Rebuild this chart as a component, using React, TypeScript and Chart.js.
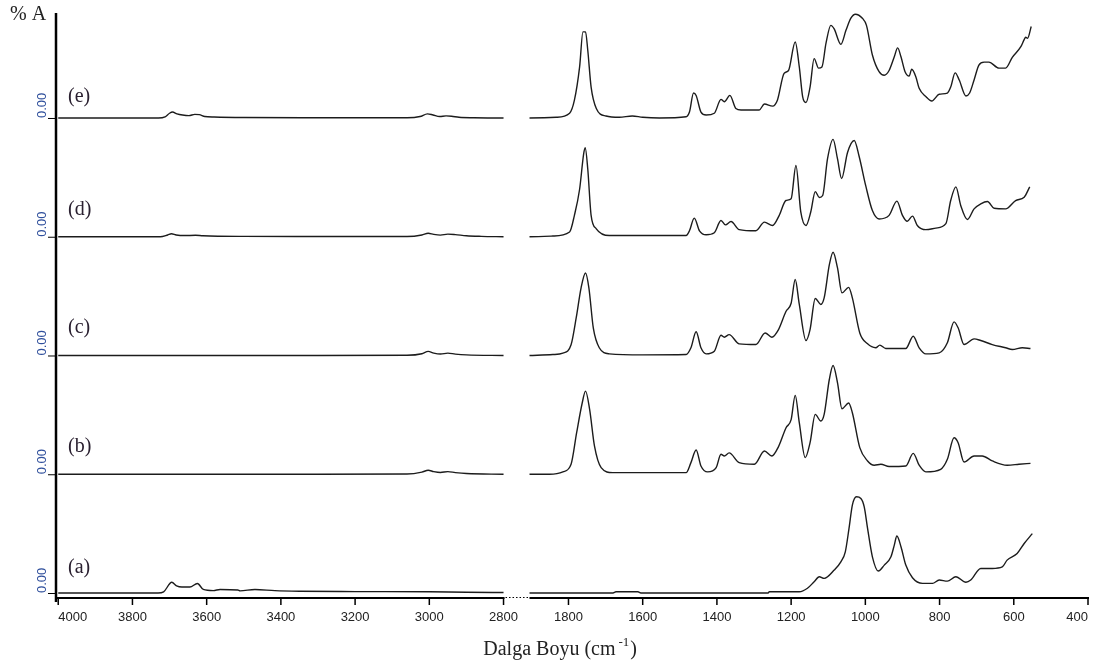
import React, { useEffect, useRef } from "react";
import { Chart, registerables } from "chart.js";

Chart.register(...registerables);

// ---- axis / labels ----
const xTickLabels = [4000, 3800, 3600, 3400, 3200, 3000, 2800, 1800, 1600, 1400, 1200, 1000, 800, 600, 400];
const seriesNames = ["(a)", "(b)", "(c)", "(d)", "(e)"];
const seriesOffsets = [0, 1, 2, 3, 4];
const labelLift = [0.21, 0.23, 0.236, 0.23, 0.177];
const yTickText = "0.00";
const yAxisTitle = "% A";
const xAxisTitle = "Dalga Boyu (cm";
const xAxisTitleSup = "-1";

// break of the wavenumber axis
const BREAK_HI = 2800;
const BREAK_LO = 1800;
const GAP = 175;

// ---- spectra: [wavenumber cm-1, absorbance] ----
const specA_high = [[4000, 0], [3731, 0], [3716, 0.01], [3694, 0.09], [3681, 0.06], [3667, 0.05], [3645, 0.05], [3625, 0.08], [3609, 0.03], [3582, 0.02], [3564, 0.03], [3516, 0.025], [3510, 0.018], [3470, 0.03], [3416, 0.02], [3349, 0.015], [3200, 0.012], [3000, 0.01], [2900, 0.006], [2800, 0.004]];
const specA_low = [[1905, 0], [1680, 0], [1672, 0.01], [1613, 0.01], [1605, 0], [1262, 0], [1259, 0.01], [1178, 0.01], [1156, 0.04], [1138, 0.095], [1124, 0.137], [1111, 0.123], [1084, 0.193], [1066, 0.263], [1054, 0.347], [1044, 0.544], [1035, 0.74], [1024, 0.81], [1012, 0.796], [1003, 0.725], [994, 0.544], [981, 0.305], [965, 0.185], [949, 0.235], [931, 0.305], [922, 0.403], [915, 0.48], [904, 0.39], [891, 0.235], [873, 0.129], [846, 0.081], [819, 0.081], [801, 0.109], [779, 0.1], [756, 0.137], [729, 0.09], [716, 0.109], [689, 0.207], [658, 0.207], [631, 0.22], [618, 0.277], [591, 0.333], [572, 0.417], [550, 0.5]];

const specB_high = [[4000, 0], [3300, 0], [3060, 0.002], [3020, 0.018], [3003, 0.034], [2988, 0.022], [2970, 0.015], [2950, 0.022], [2930, 0.014], [2900, 0.006], [2800, 0]];
const specB_low = [[1905, 0], [1851, 0], [1815, 0.02], [1793, 0.084], [1778, 0.35], [1763, 0.6], [1754, 0.7], [1743, 0.546], [1730, 0.238], [1712, 0.056], [1681, 0.014], [1483, 0.014], [1470, 0.098], [1456, 0.204], [1443, 0.07], [1425, 0.02], [1402, 0.056], [1389, 0.168], [1380, 0.154], [1367, 0.18], [1340, 0.098], [1299, 0.084], [1272, 0.196], [1252, 0.154], [1234, 0.233], [1214, 0.39], [1200, 0.46], [1189, 0.664], [1178, 0.434], [1162, 0.14], [1149, 0.266], [1135, 0.504], [1120, 0.448], [1111, 0.504], [1097, 0.8], [1087, 0.916], [1075, 0.77], [1063, 0.552], [1045, 0.6], [1035, 0.518], [1015, 0.224], [994, 0.112], [976, 0.076], [958, 0.084], [936, 0.065], [891, 0.07], [871, 0.176], [855, 0.076], [837, 0.02], [797, 0.042], [779, 0.126], [761, 0.308], [750, 0.266], [734, 0.103], [707, 0.154], [685, 0.154], [658, 0.112], [618, 0.076], [586, 0.084], [555, 0.092]];

const specC_high = [[4000, 0], [3300, 0], [3060, 0.002], [3020, 0.015], [3003, 0.035], [2988, 0.02], [2970, 0.012], [2950, 0.02], [2930, 0.012], [2900, 0.005], [2800, 0]];
const specC_low = [[1905, 0], [1842, 0.008], [1815, 0.02], [1793, 0.09], [1779, 0.32], [1766, 0.57], [1754, 0.695], [1745, 0.57], [1733, 0.23], [1717, 0.065], [1690, 0.014], [1600, 0.005], [1483, 0.008], [1470, 0.065], [1456, 0.2], [1443, 0.065], [1429, 0.014], [1407, 0.036], [1389, 0.17], [1380, 0.154], [1367, 0.176], [1340, 0.098], [1295, 0.092], [1270, 0.19], [1252, 0.154], [1234, 0.218], [1214, 0.37], [1200, 0.44], [1189, 0.64], [1178, 0.43], [1160, 0.126], [1149, 0.218], [1135, 0.48], [1120, 0.43], [1111, 0.485], [1097, 0.765], [1087, 0.87], [1075, 0.737], [1063, 0.527], [1045, 0.574], [1035, 0.485], [1015, 0.19], [994, 0.098], [972, 0.065], [961, 0.087], [945, 0.059], [891, 0.059], [871, 0.162], [855, 0.065], [837, 0.014], [801, 0.022], [779, 0.107], [761, 0.283], [750, 0.233], [734, 0.092], [707, 0.14], [689, 0.126], [658, 0.092], [622, 0.065], [604, 0.05], [577, 0.065], [555, 0.059]];

const specD_high = [[4000, 0], [3725, 0], [3705, 0.015], [3695, 0.025], [3682, 0.015], [3660, 0.01], [3630, 0.012], [3610, 0.008], [3500, 0.003], [3300, 0.002], [3060, 0.002], [3020, 0.015], [3003, 0.03], [2988, 0.02], [2970, 0.014], [2950, 0.022], [2930, 0.018], [2900, 0.008], [2860, 0.003], [2800, 0]];
const specD_low = [[1905, 0], [1842, 0.006], [1797, 0.04], [1784, 0.18], [1770, 0.4], [1759, 0.7], [1755, 0.75], [1748, 0.57], [1739, 0.18], [1725, 0.067], [1690, 0.01], [1483, 0.01], [1474, 0.05], [1461, 0.157], [1447, 0.05], [1429, 0.017], [1407, 0.034], [1389, 0.137], [1377, 0.1], [1362, 0.128], [1340, 0.06], [1295, 0.05], [1272, 0.123], [1250, 0.095], [1232, 0.18], [1214, 0.305], [1200, 0.32], [1187, 0.6], [1174, 0.21], [1160, 0.095], [1147, 0.21], [1135, 0.38], [1124, 0.33], [1115, 0.347], [1102, 0.655], [1087, 0.82], [1075, 0.655], [1064, 0.49], [1048, 0.71], [1030, 0.81], [1017, 0.68], [999, 0.43], [981, 0.22], [963, 0.15], [936, 0.18], [915, 0.3], [900, 0.18], [887, 0.13], [873, 0.174], [860, 0.095], [837, 0.06], [810, 0.073], [783, 0.11], [770, 0.305], [756, 0.42], [743, 0.263], [725, 0.145], [707, 0.235], [689, 0.277], [671, 0.297], [653, 0.24], [622, 0.235], [595, 0.305], [572, 0.333], [557, 0.42]];

const specE_high = [[4000, 0], [3730, 0], [3712, 0.01], [3700, 0.04], [3692, 0.05], [3680, 0.035], [3665, 0.025], [3648, 0.02], [3632, 0.03], [3620, 0.028], [3605, 0.012], [3580, 0.008], [3500, 0.004], [3300, 0.002], [3060, 0.002], [3025, 0.012], [3005, 0.035], [2990, 0.025], [2972, 0.012], [2955, 0.018], [2940, 0.015], [2920, 0.006], [2880, 0.002], [2800, 0]];
const specE_low = [[1905, 0], [1833, 0.006], [1797, 0.04], [1784, 0.15], [1770, 0.43], [1761, 0.725], [1754, 0.725], [1748, 0.57], [1739, 0.26], [1725, 0.08], [1699, 0.017], [1663, 0.006], [1628, 0.017], [1600, 0.006], [1555, 0], [1483, 0.01], [1474, 0.05], [1463, 0.21], [1456, 0.19], [1443, 0.05], [1429, 0.025], [1407, 0.04], [1389, 0.157], [1380, 0.137], [1365, 0.19], [1349, 0.08], [1335, 0.067], [1286, 0.067], [1272, 0.118], [1250, 0.1], [1237, 0.15], [1219, 0.376], [1207, 0.4], [1189, 0.64], [1178, 0.43], [1169, 0.18], [1160, 0.13], [1149, 0.26], [1138, 0.5], [1126, 0.42], [1117, 0.43], [1106, 0.63], [1093, 0.78], [1084, 0.75], [1066, 0.62], [1052, 0.74], [1039, 0.84], [1027, 0.874], [1008, 0.84], [997, 0.78], [981, 0.53], [963, 0.39], [949, 0.36], [936, 0.4], [922, 0.515], [913, 0.59], [904, 0.515], [893, 0.39], [882, 0.353], [875, 0.41], [864, 0.347], [855, 0.25], [837, 0.18], [821, 0.143], [801, 0.2], [779, 0.21], [770, 0.26], [758, 0.38], [747, 0.32], [729, 0.185], [719, 0.21], [707, 0.32], [694, 0.445], [680, 0.47], [667, 0.47], [640, 0.42], [622, 0.42], [604, 0.51], [581, 0.6], [572, 0.66], [568, 0.68], [563, 0.67], [553, 0.77]];

const spectraHigh = [specA_high, specB_high, specC_high, specD_high, specE_high];
const spectraLow = [specA_low, specB_low, specC_low, specD_low, specE_low];

function toT(w: number): number {
  return w >= BREAK_HI ? 4000 - w : (4000 - BREAK_HI) + GAP + (BREAK_LO - w);
}

const LINE_COLOR = "#1c1c1c";

const axisPlugin = {
  id: "ftirAxes",
  afterDraw(chart: any) {
    const ctx = chart.ctx as CanvasRenderingContext2D;
    const xs = chart.scales.x;
    const ys = chart.scales.y;
    const area = chart.chartArea;
    const W = chart.width;
    ctx.save();
    ctx.strokeStyle = "#000";
    ctx.fillStyle = "#000";

    // x axis line with break
    const xBreakA = xs.getPixelForValue(toT(BREAK_HI));
    const xBreakB = xs.getPixelForValue(toT(1905));
    ctx.lineWidth = 2;
    ctx.beginPath();
    ctx.moveTo(area.left - 1, area.bottom);
    ctx.lineTo(xBreakA + 1, area.bottom);
    ctx.moveTo(xBreakB, area.bottom);
    ctx.lineTo(area.right + 1, area.bottom);
    ctx.stroke();
    ctx.lineWidth = 1.2;
    ctx.setLineDash([1.5, 2]);
    ctx.beginPath();
    ctx.moveTo(xBreakA + 2, area.bottom - 0.5);
    ctx.lineTo(xBreakB - 1, area.bottom - 0.5);
    ctx.stroke();
    ctx.setLineDash([]);

    // x ticks + labels
    ctx.lineWidth = 1.5;
    ctx.font = "13px 'Liberation Sans', Arial, sans-serif";
    ctx.fillStyle = "#222";
    ctx.textBaseline = "middle";
    xTickLabels.forEach((w, i) => {
      const px = xs.getPixelForValue(toT(w));
      ctx.beginPath();
      ctx.moveTo(px, area.bottom);
      ctx.lineTo(px, area.bottom + 7);
      ctx.stroke();
      const txt = String(w);
      const tw = ctx.measureText(txt).width;
      if (i === 0) ctx.textAlign = "left";
      else if (px + tw / 2 > W - 2) ctx.textAlign = "right";
      else ctx.textAlign = "center";
      ctx.fillText(txt, px, area.bottom + 19);
    });

    // y axis line
    ctx.strokeStyle = "#000";
    ctx.lineWidth = 2.5;
    ctx.beginPath();
    ctx.moveTo(area.left, area.top);
    ctx.lineTo(area.left, area.bottom + 4);
    ctx.stroke();

    // y ticks (rotated "0.00") and series labels
    seriesOffsets.forEach((off, i) => {
      const py = ys.getPixelForValue(off);
      ctx.lineWidth = 1;
      ctx.beginPath();
      ctx.moveTo(area.left - 8, py + 0.5);
      ctx.lineTo(area.left, py + 0.5);
      ctx.stroke();
      ctx.save();
      ctx.translate(area.left - 14, py);
      ctx.rotate(-Math.PI / 2);
      ctx.font = "13px 'Liberation Sans', Arial, sans-serif";
      ctx.fillStyle = "#2f4f9c";
      ctx.textAlign = "left";
      ctx.textBaseline = "middle";
      ctx.fillText(yTickText, 0, 0);
      ctx.restore();

      ctx.font = "20px 'Liberation Serif', 'Times New Roman', serif";
      ctx.fillStyle = "#2a2030";
      ctx.textAlign = "left";
      ctx.textBaseline = "middle";
      ctx.fillText(seriesNames[i], area.left + 12, ys.getPixelForValue(off + labelLift[i]));
    });

    // y title
    ctx.font = "20px 'Liberation Serif', 'Times New Roman', serif";
    ctx.fillStyle = "#222";
    ctx.textAlign = "left";
    ctx.textBaseline = "alphabetic";
    ctx.fillText(yAxisTitle, 10, 20);

    // x title with superscript
    const mainFont = "20px 'Liberation Serif', 'Times New Roman', serif";
    const supFont = "13px 'Liberation Serif', 'Times New Roman', serif";
    ctx.font = mainFont;
    const w1 = ctx.measureText(xAxisTitle).width;
    const w3 = ctx.measureText(")").width;
    ctx.font = supFont;
    const w2 = ctx.measureText(xAxisTitleSup).width;
    const total = w1 + 3 + w2 + 1 + w3;
    const cx = area.left + (area.right - area.left) * 0.4885;
    let x0 = cx - total / 2;
    const base = 655;
    ctx.font = mainFont;
    ctx.fillText(xAxisTitle, x0, base);
    x0 += w1 + 3;
    ctx.font = supFont;
    ctx.fillText(xAxisTitleSup, x0, base - 9);
    x0 += w2 + 1;
    ctx.font = mainFont;
    ctx.fillText(")", x0, base);

    ctx.restore();
  },
};

export default function App() {
  const canvasRef = useRef<HTMLCanvasElement | null>(null);

  useEffect(() => {
    if (!canvasRef.current) return;
    const datasets = seriesOffsets.map((off, i) => ({
      label: seriesNames[i],
      data: [
        ...spectraHigh[i].map(([w, a]) => ({ x: toT(w), y: a + off })),
        { x: (toT(BREAK_HI) + toT(1905)) / 2, y: null as any },
        ...spectraLow[i].map(([w, a]) => ({ x: toT(w), y: a + off })),
      ],
      borderColor: LINE_COLOR,
      borderWidth: 1.4,
      pointRadius: 0,
      fill: false,
      spanGaps: false,
      cubicInterpolationMode: "monotone" as const,
    }));

    const chart = new Chart(canvasRef.current, {
      type: "line",
      data: { datasets },
      options: {
        animation: false,
        responsive: true,
        maintainAspectRatio: false,
        layout: { padding: { left: 56, top: 13, right: 6, bottom: 70 } },
        plugins: { legend: { display: false }, tooltip: { enabled: false } },
        scales: {
          x: { type: "linear", display: false, min: -6, max: toT(400) },
          y: { type: "linear", display: false, min: -0.042, max: 4.884 },
        },
      },
      plugins: [axisPlugin],
    });
    return () => chart.destroy();
  }, []);

  return (
    <div style={{ position: "absolute", left: 0, top: 0, width: 1094, height: 668, background: "#fff" }}>
      <canvas ref={canvasRef} />
    </div>
  );
}
